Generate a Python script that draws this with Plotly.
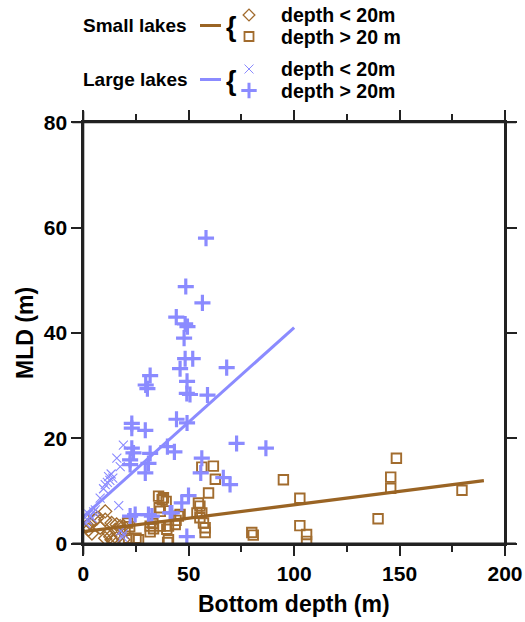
import plotly.graph_objects as go

# ---- data -------------------------------------------------------------
# Small lakes, bottom depth < 20 m
small_shallow_x = [10.4, 4.9, 5.5, 3.2, 10.4, 13.4, 15.8, 17.5, 15.2, 4.1,
                   10.4, 12.8, 13.4, 15.8, 14.2, 1.7, 19.0, 6.5, 2.5, 8.0, 12.0, 19.1]
small_shallow_y = [6.1, 5.5, 4.5, 3.9, 4.5, 3.9, 3.6, 3.3, 2.6, 1.9,
                   1.0, 1.3, 0.7, 1.0, 0.5, 3.3, 0.7, 4.8, 2.6, 3.0, 2.0, 3.3]

# Small lakes, bottom depth > 20 m
small_deep_x = [21.0, 22.0, 19.8, 21.5, 26.2, 25.0, 31.7, 33.3, 31.7, 33.0,
                36.5, 35.7, 38.0, 37.4, 39.3, 36.5, 39.6, 40.4, 40.4, 43.6,
                45.1, 44.0, 45.9, 53.9, 54.6, 55.3, 56.2, 55.3, 57.0, 57.8,
                57.8, 59.4, 62.6, 56.2, 61.7, 79.9, 80.6, 94.9, 102.7, 102.7,
                105.9, 105.9, 139.8, 145.8, 145.8, 148.5, 179.6, 36.0, 40.0]
small_deep_y = [3.9, 3.2, 2.5, 1.0, 0.7, 1.0, 3.3, 2.8, 2.2, 3.8,
                3.3, 9.0, 8.7, 8.3, 8.0, 6.1, 2.7, 0.7, 3.3, 3.6,
                5.2, 4.4, 5.5, 5.8, 7.7, 7.1, 5.8, 4.9, 3.9, 3.0,
                2.1, 9.6, 12.2, 14.5, 14.7, 2.1, 1.6, 12.1, 8.6, 3.4,
                1.7, 0.4, 4.7, 12.6, 10.5, 16.2, 10.1, 6.8, 0.2]

# Large lakes, bottom depth < 20 m
large_shallow_x = [19.0, 15.9, 17.5, 12.0, 12.6, 11.4, 13.2, 14.0, 10.4, 9.6,
                   8.0, 5.7, 4.9, 3.3, 2.0, 1.2, 16.8, 17.8, 19.0, 18.6, 2.6, 4.2]
large_shallow_y = [18.7, 16.2, 14.6, 12.7, 12.0, 11.6, 13.2, 12.4, 11.2, 10.4,
                   8.6, 6.4, 6.0, 5.2, 4.5, 3.8, 7.2, 2.4, 1.8, 1.2, 5.6, 4.8]

# Large lakes, bottom depth > 20 m
large_deep_x = [58.2, 48.6, 56.5, 44.1, 48.3, 49.4, 47.8, 48.3, 51.9, 45.9,
                68.0, 31.7, 29.6, 30.4, 49.2, 49.1, 50.6, 58.9, 44.2, 49.2,
                23.0, 23.0, 29.4, 23.0, 22.2, 22.2, 31.7, 30.9, 29.4, 39.9,
                43.2, 72.7, 86.6, 56.2, 55.7, 66.4, 69.6, 49.9, 46.7, 41.2,
                22.2, 24.6, 30.9, 32.5, 42.0, 49.1, 23.8]
large_deep_y = [58.0, 48.8, 45.7, 43.0, 41.7, 41.2, 39.0, 35.1, 35.1, 33.2,
                33.4, 31.9, 30.1, 29.4, 30.8, 28.5, 28.3, 28.2, 23.6, 22.9,
                22.8, 21.9, 21.5, 18.1, 15.9, 15.0, 17.1, 15.2, 13.4, 18.4,
                17.4, 19.0, 18.1, 16.2, 13.4, 12.5, 11.2, 9.1, 7.7, 5.8,
                5.2, 5.5, 5.5, 5.2, 5.8, 1.3, 17.2]

# Linear fits (intercept, slope) and the depth span each is drawn over
small_fit = (2.25, 0.051)
small_fit_span = [0, 190]
large_fit = (5.1, 0.359)
large_fit_span = [0, 100]

# ---- styling ------------------------------------------------------------
BROWN_LINE = "#9a6424"
BROWN = "#a26c2e"
BLUE = "#8b8bff"
FONT = "Liberation Sans, Arial, sans-serif"
W, H = 525, 622
# plot box in pixels
PX0, PX1 = 83.3, 505.0
PY0, PY1 = 122.3, 543.5

fig = go.Figure()

fig.add_trace(go.Scatter(
    x=small_shallow_x, y=small_shallow_y, mode="markers",
    marker=dict(symbol="diamond-open", size=10, color=BROWN, line=dict(width=1.4, color=BROWN)),
    xaxis="x", yaxis="y", showlegend=False))
fig.add_trace(go.Scatter(
    x=small_deep_x, y=small_deep_y, mode="markers",
    marker=dict(symbol="square-open", size=9.5, color=BROWN, line=dict(width=1.9, color=BROWN)),
    xaxis="x", yaxis="y", showlegend=False))
fig.add_trace(go.Scatter(
    x=large_shallow_x, y=large_shallow_y, mode="markers",
    marker=dict(symbol="x-thin-open", size=9, color=BLUE, line=dict(width=1.1, color=BLUE)),
    xaxis="x", yaxis="y", showlegend=False))
fig.add_trace(go.Scatter(
    x=large_deep_x, y=large_deep_y, mode="markers",
    marker=dict(symbol="cross-thin-open", size=11.5, color=BLUE, line=dict(width=3.2, color=BLUE)),
    xaxis="x", yaxis="y", showlegend=False))

for (b0, b1), span, col, lw in [(small_fit, small_fit_span, BROWN_LINE, 3.3),
                                (large_fit, large_fit_span, BLUE, 3)]:
    fig.add_trace(go.Scatter(
        x=span, y=[b0 + b1 * v for v in span], mode="lines",
        line=dict(color=col, width=lw), xaxis="x", yaxis="y", showlegend=False))

# ---- key in the top margin (pixel-based overlay axes) -------------------
key_rows = [
    dict(label="Small lakes", color=BROWN_LINE, mcolor=BROWN, y=25.5,
         sym=("diamond-open", 9, 1.3), sym2=("square-open", 9, 1.8),
         t1="depth < 20m", t2="depth > 20 m"),
    dict(label="Large lakes", color=BLUE, mcolor=BLUE, y=79.5,
         sym=("x-thin-open", 9, 1), sym2=("cross-thin-open", 11, 3),
         t1="depth < 20m", t2="depth > 20m"),
]
ann = []
for r in key_rows:
    yc = r["y"]
    fig.add_trace(go.Scatter(x=[200, 221], y=[yc, yc], mode="lines",
                             line=dict(color=r["color"], width=3),
                             xaxis="x2", yaxis="y2", showlegend=False))
    for (s, sz, lw), yy in [(r["sym"], yc - 10.5), (r["sym2"], yc + 11)]:
        fig.add_trace(go.Scatter(x=[249], y=[yy], mode="markers",
                                 marker=dict(symbol=s, size=sz, color=r["mcolor"],
                                             line=dict(width=lw, color=r["mcolor"])),
                                 xaxis="x2", yaxis="y2", showlegend=False))
    ann.append(dict(x=81, y=yc, text=r["label"], xanchor="left", yanchor="middle"))
    ann.append(dict(x=224, y=yc + 1, text="{", xanchor="left", yanchor="middle", size=27))
    ann.append(dict(x=279, y=yc - 10.5, text=r["t1"], xanchor="left", yanchor="middle", size=19.5))
    ann.append(dict(x=279, y=yc + 11, text=r["t2"], xanchor="left", yanchor="middle", size=19.5))

annotations = []
for a in ann:
    annotations.append(dict(
        x=a["x"], y=a["y"], xref="x2", yref="y2", text=a["text"], showarrow=False,
        xanchor=a["xanchor"], yanchor=a["yanchor"],
        font=dict(family=FONT, size=a.get("size", 19), color="black", weight="bold")))

# axis titles
annotations.append(dict(x=(PX0 + PX1) / 2, y=604, xref="x2", yref="y2",
                        text="Bottom depth (m)", showarrow=False,
                        xanchor="center", yanchor="middle",
                        font=dict(family=FONT, size=23, color="black", weight="bold")))
annotations.append(dict(x=25, y=(PY0 + PY1) / 2, xref="x2", yref="y2",
                        text="MLD (m)", showarrow=False, textangle=-90,
                        xanchor="center", yanchor="middle",
                        font=dict(family=FONT, size=23, color="black", weight="bold")))

# frame lines that run a little past each corner
EXT = 11
AXC = "#222222"
shapes = [
    dict(type="line", xref="x2", yref="y2", x0=PX0 - EXT, x1=PX1 + EXT, y0=PY1, y1=PY1),
    dict(type="line", xref="x2", yref="y2", x0=PX0 - EXT, x1=PX1 + EXT, y0=PY0, y1=PY0),
    dict(type="line", xref="x2", yref="y2", x0=PX0, x1=PX0, y0=PY0 - EXT, y1=PY1 + EXT),
    dict(type="line", xref="x2", yref="y2", x0=PX1, x1=PX1, y0=PY0 - EXT, y1=PY1 + EXT),
]
for s in shapes:
    s["line"] = dict(color=AXC, width=2)
    s["layer"] = "above"

tickfont = dict(family=FONT, size=21, color="black", weight="bold")
fig.update_layout(
    template="none",
    width=W, height=H,
    margin=dict(l=0, r=0, t=0, b=0, pad=0, autoexpand=False),
    paper_bgcolor="white", plot_bgcolor="rgba(0,0,0,0)",
    showlegend=False,
    xaxis=dict(domain=[PX0 / W, PX1 / W], range=[0, 200], anchor="y",
               automargin=False,
               tickmode="array", tickvals=[0, 50, 100, 150, 200],
               ticks="outside", ticklen=10, tickwidth=2, tickcolor=AXC,
               minor=dict(dtick=25, tick0=0, ticks="outside", ticklen=6,
                          tickwidth=2, tickcolor=AXC, showgrid=False),
               showline=True, linecolor=AXC, linewidth=2, mirror="allticks",
               showgrid=False, zeroline=False, tickfont=tickfont),
    yaxis=dict(domain=[(H - PY1) / H, (H - PY0) / H], range=[0, 80], anchor="x",
               automargin=False,
               tickmode="array", tickvals=[0, 20, 40, 60, 80],
               ticks="outside", ticklen=10, tickwidth=2, tickcolor=AXC,
               showline=True, linecolor=AXC, linewidth=2, mirror="allticks",
               showgrid=False, zeroline=False, tickfont=tickfont),
    xaxis2=dict(domain=[0, 1], range=[0, W], anchor="y2", visible=False,
                automargin=False, fixedrange=True),
    yaxis2=dict(domain=[0, 1], range=[H, 0], anchor="x2", visible=False,
                automargin=False, fixedrange=True),
    annotations=annotations,
    shapes=shapes,
)

fig.write_html("out.html")
